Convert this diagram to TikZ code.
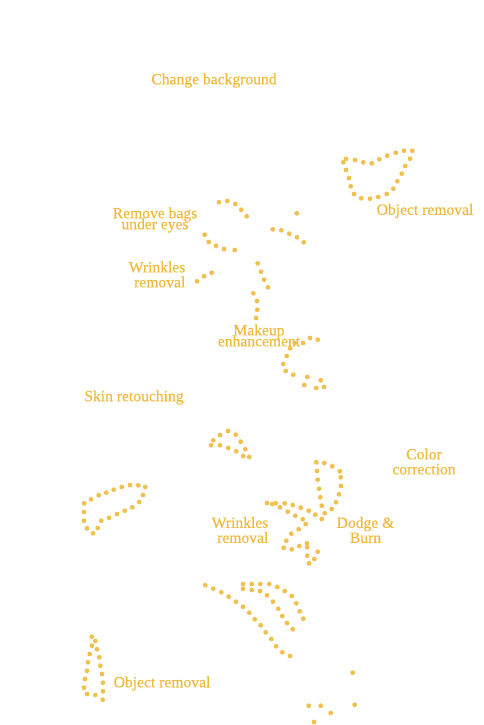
\documentclass[tikz,border=0pt]{standalone}
\usepackage{fontspec}
\setmainfont{Liberation Serif}[FakeBold=0.4]
\definecolor{gold}{RGB}{238,186,62}
\definecolor{dotgold}{RGB}{240,192,80}
\newcommand\myskipfix{\lineskiplimit=-30pt\relax}
\tikzset{
  lbl/.style={text=gold, inner sep=0pt, font=\fontsize{15.6}{15}\selectfont\myskipfix},
  tight/.style={font=\fontsize{15.6}{11}\selectfont\myskipfix},
  dotmark/.style={fill=dotgold}
}
\begin{document}
\begin{tikzpicture}[x=1pt,y=-1pt]
\useasboundingbox (0,0) rectangle (483,725);
% labels
\node[lbl] (cb) at (214,80.5) {Change background};
\node[lbl] (or1) at (425,211) {Object removal};
\node[lbl,tight,align=center] (rb) at (155,220) {Remove bags\\under eyes};
\node[lbl,align=right,anchor=east] (wr1) at (185.5,274.5) {Wrinkles\\removal};
\node[lbl,tight,align=center] (mk) at (259,335.5) {Makeup\\enhancement};
\node[lbl] (sk) at (134,397.5) {Skin retouching};
\node[lbl,align=center] (cc) at (424,461.5) {Color\\correction};
\node[lbl,align=right,anchor=east] (wr2) at (268.5,530) {Wrinkles\\removal};
\node[lbl,align=center] (db) at (365.5,530) {Dodge \&\\Burn};
\node[lbl] (or2) at (162,683.5) {Object removal};
% dotted paths
\foreach \p in {
 % top right loop
 (343.3,162.3),(346,159),(355,160),(363.3,162.3),(371.7,163.3),(379.3,159.3),(387.3,155.7),(395.7,152.7),(404,150.7),(412.3,150.7),(410,158.7),(405.3,166),(401.7,173.7),(397.3,181.3),(393.3,188.7),(386.7,194),(378.3,197),(370,198.7),(361.3,198.3),(354,194),(350.7,186.3),(349,178),(346,170),
 % eyes area
 (219,202.3),(227.3,201),(235.3,204),(241.3,209.7),(246.7,216.3),
 (296.7,213.3),
 (272.7,229.3),(281.3,230.3),(289.3,233.7),(297,237.3),(303.7,242.3),
 (204.7,234.7),(208.7,242),(216,245.7),(224,249),(234.7,250),
 % wrinkles / nose
 (197,281.3),(204,276.3),(211.7,272.7),
 (257.7,263.3),(261,271.7),(264,279.7),(268,287.3),
 (253.3,293.3),(257,301),(257.3,309.7),(256,318),
 % lips
 (294.7,343),(303,343),(310,338),(317.7,339.7),(290,348.3),(286.7,356),(283.3,364),(285.7,371),(293.3,374.7),(307.3,377),(304.3,385),(320.7,380.3),(316.3,388),(324,387),
 % small cluster
 (228,431),(220,435),(235.7,434.7),(213.3,440.3),(240.7,441.7),(211,445.3),(220,445.3),(228.3,448),(236.3,451.3),(245.3,449.3),(243.3,456),(249.3,457),
 % color correction loop
 (316.3,462.3),(324.3,463),(332.3,466.3),(339.7,471.3),(340.7,477.3),(341,486),(339,494.3),(336,502.3),(331.7,509),(324.7,513.3),(321.7,519),
 (317,471),(317.7,479.7),(319,488.7),(320.3,497.3),(321.7,505.7),
 (267,503),(272.3,504),(275.7,503.3),(284.7,503.3),(292.7,505),(300.7,507.7),(308.7,510.7),(315.3,514.7),
 (280,507.3),(287.7,511.7),(295.3,515.7),(302.7,519.3),(305.7,524),
 (298.7,529.3),(291.3,533.7),(286.3,540.7),(283.7,547.7),(291.7,549.3),(299.3,546),(307,543.3),(307.3,547.3),(307.3,555.7),(314.3,559),(309,563.3),(317.7,551.7),
 % left loop
 (84.3,503.3),(91,499.3),(98.7,495.3),(106.3,492.7),(113.7,489.7),(121.7,487),(130,485),(138.3,485.3),(145.3,487),(143,495),(139.3,502),(132.3,507.3),(124.7,510.7),(117,514),(109,517.7),(101.3,520.7),(97.7,528),(93,533.3),(87,528.3),(84,520.7),(84,512),
 % arcs
 (205.3,585.3),(213.3,588.7),(221.3,592.3),(228.7,596.7),(236,601.7),(243,606.7),(249.3,612.7),(254.7,619.3),(260.7,625.3),(265.7,632.3),(271.3,639),(276,646.3),(282.3,652.3),(290,656),
 (243,584),(251.7,584),(260.3,584),(269.3,584),(243,588.7),(251.7,590),(260,591),
 (267,595.3),(273,601.7),(278.3,608.7),(282.3,616),(287,623),(292.7,629.3),
 (277.3,587),(284.7,591),(291.7,596),(296.3,603.3),(299.7,611.3),(303.3,618.7),
 % bottom left loop
 (91.7,636.7),(95.3,641),(92,645.7),(97,649.3),(89.7,654),(99.3,657.3),(88,662.3),(100.3,665.7),(87,670.7),(102,674),(85,679),(103,682.7),(84,687.7),(103,691.3),(87,694),(95.3,695),(102.7,699.7),
 % bottom right scatter
 (352.7,672.7),(354.7,704.7),(308.7,705.7),(320.7,705.7),(330.7,713),(314,722)
}{
  \fill[dotmark] \p circle (2.4);
}
\end{tikzpicture}
\end{document}
